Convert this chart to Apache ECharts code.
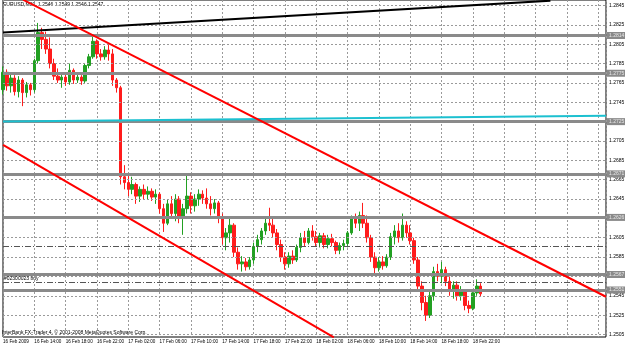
<!DOCTYPE html>
<html>
<head>
<meta charset="utf-8">
<script src="https://cdn.jsdelivr.net/npm/echarts@6/dist/echarts.min.js"></script>
<style>
  html, body { margin: 0; padding: 0; background: #fff; }
  #main { width: 625px; height: 346px; }
</style>
</head>
<body>
<div id="main"></div>
<script>
// EURUSD M30, 16 Feb 10:00 -> 18 Feb 23:00 (bar index 0..122)
var open = [
  1.2758, 1.2776, 1.2762, 1.2770, 1.2756, 1.2768, 1.2755, 1.2763, 1.2758, 1.2788,
  1.2817, 1.2810, 1.2800, 1.2785, 1.2772, 1.2768, 1.2771, 1.2766, 1.2778, 1.2768,
  1.2771, 1.2767, 1.2783, 1.2792, 1.2808, 1.2795, 1.2792, 1.2799, 1.2795, 1.2768,
  1.2760, 1.2668, 1.2662, 1.2655, 1.2660, 1.2648, 1.2655, 1.2650, 1.2653, 1.2647,
  1.2650, 1.2635, 1.2620, 1.2640, 1.2630, 1.2645, 1.2625, 1.2635, 1.2648, 1.2638,
  1.2645, 1.2650, 1.2646, 1.2640, 1.2635, 1.2641, 1.2625, 1.2605, 1.2610, 1.2618,
  1.2590, 1.2578, 1.2580, 1.2575, 1.2582, 1.2596, 1.2603, 1.2612, 1.2620, 1.2618,
  1.2610, 1.2598, 1.2585, 1.2578, 1.2586, 1.2582, 1.2595, 1.2605, 1.2600, 1.2612,
  1.2606, 1.2600, 1.2607, 1.2598, 1.2604, 1.2600, 1.2592, 1.2597, 1.2599, 1.2610,
  1.2625, 1.2620, 1.2628, 1.2620, 1.2605, 1.2585, 1.2574, 1.2580, 1.2576, 1.2585,
  1.2606, 1.2612, 1.2605, 1.2618, 1.2610, 1.2602, 1.2582, 1.2555, 1.2538, 1.2525,
  1.2545, 1.2570, 1.2565, 1.2572, 1.2560, 1.2552, 1.2556, 1.2545, 1.2550, 1.2535,
  1.2532, 1.2548, 1.2555
];
var high = [
  1.2782, 1.2779, 1.2775, 1.2773, 1.2772, 1.2770, 1.2766, 1.2765, 1.2790, 1.2827,
  1.2822, 1.2818, 1.2812, 1.2790, 1.2780, 1.2775, 1.2776, 1.2785, 1.2780, 1.2774,
  1.2773, 1.2785, 1.2795, 1.2815, 1.2810, 1.2800, 1.2803, 1.2806, 1.2800, 1.2770,
  1.2762, 1.2680, 1.2672, 1.2668, 1.2662, 1.2658, 1.2660, 1.2658, 1.2656, 1.2655,
  1.2652, 1.2640, 1.2645, 1.2648, 1.2650, 1.2648, 1.2640, 1.2670, 1.2652, 1.2650,
  1.2655, 1.2654, 1.2656, 1.2648, 1.2645, 1.2643, 1.2630, 1.2615, 1.2625, 1.2620,
  1.2595, 1.2586, 1.2584, 1.2585, 1.2600, 1.2608, 1.2615, 1.2625, 1.2636, 1.2625,
  1.2614, 1.2603, 1.2590, 1.2590, 1.2592, 1.2598, 1.2610, 1.2612, 1.2615, 1.2618,
  1.2612, 1.2610, 1.2610, 1.2608, 1.2609, 1.2602, 1.2600, 1.2603, 1.2612, 1.2628,
  1.2630, 1.2632, 1.2641, 1.2628, 1.2608, 1.2590, 1.2585, 1.2586, 1.2588, 1.2610,
  1.2618, 1.2620, 1.2630, 1.2622, 1.2618, 1.2605, 1.2585, 1.2560, 1.2545, 1.2550,
  1.2575, 1.2578, 1.2580, 1.2575, 1.2565, 1.2560, 1.2560, 1.2555, 1.2552, 1.2540,
  1.2552, 1.2562, 1.2558
];
var low = [
  1.2753, 1.2757, 1.2755, 1.2752, 1.2750, 1.2741, 1.2750, 1.2752, 1.2755, 1.2785,
  1.2800, 1.2795, 1.2780, 1.2768, 1.2765, 1.2760, 1.2762, 1.2763, 1.2764, 1.2765,
  1.2763, 1.2765, 1.2780, 1.2790, 1.2790, 1.2788, 1.2789, 1.2788, 1.2762, 1.2755,
  1.2660, 1.2655, 1.2648, 1.2650, 1.2640, 1.2642, 1.2645, 1.2644, 1.2643, 1.2640,
  1.2630, 1.2611, 1.2618, 1.2625, 1.2622, 1.2620, 1.2608, 1.2630, 1.2630, 1.2632,
  1.2638, 1.2640, 1.2635, 1.2628, 1.2630, 1.2620, 1.2598, 1.2592, 1.2600, 1.2585,
  1.2572, 1.2570, 1.2571, 1.2572, 1.2578, 1.2590, 1.2598, 1.2608, 1.2612, 1.2605,
  1.2592, 1.2580, 1.2572, 1.2574, 1.2578, 1.2580, 1.2590, 1.2596, 1.2598, 1.2602,
  1.2596, 1.2595, 1.2594, 1.2594, 1.2596, 1.2588, 1.2588, 1.2592, 1.2595, 1.2608,
  1.2615, 1.2612, 1.2615, 1.2600, 1.2580, 1.2568, 1.2570, 1.2572, 1.2574, 1.2582,
  1.2598, 1.2600, 1.2602, 1.2605, 1.2598, 1.2578, 1.2550, 1.2530, 1.2519, 1.2522,
  1.2540, 1.2560, 1.2558, 1.2555, 1.2545, 1.2542, 1.2540, 1.2540, 1.2530, 1.2527,
  1.2530, 1.2545, 1.2544
];
var close = [
  1.2776, 1.2762, 1.2770, 1.2756, 1.2768, 1.2755, 1.2763, 1.2758, 1.2788, 1.2817,
  1.2810, 1.2800, 1.2785, 1.2772, 1.2768, 1.2771, 1.2766, 1.2778, 1.2768, 1.2771,
  1.2767, 1.2783, 1.2792, 1.2808, 1.2795, 1.2792, 1.2799, 1.2795, 1.2768, 1.2760,
  1.2668, 1.2662, 1.2655, 1.2660, 1.2648, 1.2655, 1.2650, 1.2653, 1.2647, 1.2650,
  1.2635, 1.2620, 1.2640, 1.2630, 1.2645, 1.2625, 1.2635, 1.2648, 1.2638, 1.2645,
  1.2650, 1.2646, 1.2640, 1.2635, 1.2641, 1.2625, 1.2605, 1.2610, 1.2618, 1.2590,
  1.2578, 1.2580, 1.2575, 1.2582, 1.2596, 1.2603, 1.2612, 1.2620, 1.2618, 1.2610,
  1.2598, 1.2585, 1.2578, 1.2586, 1.2582, 1.2595, 1.2605, 1.2600, 1.2612, 1.2606,
  1.2600, 1.2607, 1.2598, 1.2604, 1.2600, 1.2592, 1.2597, 1.2599, 1.2610, 1.2625,
  1.2620, 1.2628, 1.2620, 1.2605, 1.2585, 1.2574, 1.2580, 1.2576, 1.2585, 1.2606,
  1.2612, 1.2605, 1.2618, 1.2610, 1.2602, 1.2582, 1.2555, 1.2538, 1.2525, 1.2545,
  1.2570, 1.2565, 1.2572, 1.2560, 1.2552, 1.2556, 1.2545, 1.2550, 1.2535, 1.2532,
  1.2548, 1.2555, 1.2547
];

// one label every 8 bars (4 hours)
var timeTicks = [
  '16 Feb 2009', '16 Feb 14:00', '16 Feb 18:00', '16 Feb 22:00',
  '17 Feb 02:00', '17 Feb 06:00', '17 Feb 10:00', '17 Feb 14:00',
  '17 Feb 18:00', '17 Feb 22:00', '18 Feb 02:00', '18 Feb 06:00',
  '18 Feb 10:00', '18 Feb 14:00', '18 Feb 18:00', '18 Feb 22:00'
];
var priceTicks = [
  1.2845, 1.2825, 1.2805, 1.2785, 1.2765, 1.2745, 1.2725, 1.2705, 1.2685,
  1.2665, 1.2645, 1.2625, 1.2605, 1.2585, 1.2565, 1.2545, 1.2525, 1.2505
];

// horizontal lines and trend lines drawn on the chart
var levelPrices = [1.2814, 1.2775, 1.2725, 1.2671, 1.2626, 1.2567, 1.2551];
var orderPrices = [1.2596, 1.2559];
var orderName = '#02300023 buy';
var bidPrice = 1.2547;
var blackTrend = [[0, 1.2817], [139.8, 1.2850]];
var cyanTrend = [[0, 1.2725], [154, 1.2731]];
var redUpper = [[5.1, 1.2851], [154, 1.2544]];
var redLower = [[0, 1.2701], [84.5, 1.2502]];

var FONT = 'Liberation Sans';
var chart = echarts.init(document.getElementById('main'), null, { renderer: 'canvas' });

var candleData = open.map(function (o, i) {
  return [i, o, close[i], low[i], high[i]];
});

function trendSeries(points, color, width) {
  return {
    type: 'line',
    data: points,
    symbol: 'none',
    silent: true,
    clip: true,
    z: 5,
    lineStyle: { color: color, width: width }
  };
}

var option = {
  animation: false,
  backgroundColor: '#fff',
  grid: {
    left: 2, right: 19, top: 0, bottom: 9,
    show: true, borderColor: '#000', borderWidth: 1, backgroundColor: '#fff'
  },
  graphic: [
    {
      type: 'text', left: 3, top: 2,
      style: { text: 'EURUSD,M30  1.2546 1.2549 1.2546 1.2547', fontSize: 5, fontFamily: FONT, fill: '#000' }
    },
    {
      type: 'text', left: 2, top: 330,
      style: { text: 'InterBank FX-Trader 4, \u00a9 2001-2008 MetaQuotes Software Corp.', fontSize: 5, fontFamily: FONT, fill: '#000' }
    }
  ],
  xAxis: {
    type: 'value',
    min: 0,
    max: 154,
    interval: 8,
    axisLine: { show: false },
    axisTick: { show: false },
    axisLabel: {
      fontSize: 4.6,
      fontFamily: FONT,
      color: '#000',
      margin: 2,
      align: 'left',
      showMaxLabel: false,
      formatter: function (v) {
        var k = Math.round(v / 8);
        return timeTicks[k] || '';
      }
    },
    splitLine: { show: true, lineStyle: { color: '#9a9a9a', type: [2, 2], width: 1 } }
  },
  yAxis: {
    type: 'value',
    position: 'right',
    min: 1.25024,
    max: 1.28507,
    axisLine: { show: false },
    axisTick: { show: false },
    axisLabel: { show: false },
    splitLine: { show: false }
  },
  series: [
    {
      // price grid + labels
      type: 'line', data: [], silent: true, clip: false, z: 1,
      markLine: {
        silent: true, symbol: ['none', 'none'], animation: false, precision: 5,
        lineStyle: { color: '#9a9a9a', type: [2, 2], width: 1 },
        label: { position: 'end', distance: 3, fontSize: 5, fontFamily: FONT, color: '#000' },
        data: priceTicks.map(function (p) {
          return { yAxis: p, label: { formatter: p.toFixed(4) } };
        })
      }
    },
    {
      // order lines
      type: 'line', data: [], silent: true, clip: false, z: 2,
      markLine: {
        silent: true, symbol: ['none', 'none'], animation: false, precision: 5,
        lineStyle: { color: '#555', type: [6, 2, 1, 2], width: 1 },
        label: { show: false },
        data: orderPrices.map(function (p, i) {
          return {
            yAxis: p,
            label: i === 1 ? {
              show: true, position: 'insideStartTop', distance: 1,
              formatter: orderName, fontSize: 5, fontFamily: FONT, color: '#000'
            } : { show: false }
          };
        })
      }
    },
    {
      // horizontal levels
      type: 'line', data: [], silent: true, clip: false, z: 3,
      markLine: {
        silent: true, symbol: ['none', 'none'], animation: false, precision: 5,
        lineStyle: { color: '#8a8a8a', type: 'solid', width: 3 },
        label: {
          position: 'end', distance: 1, fontSize: 5, fontFamily: FONT,
          color: '#e8e8e8', backgroundColor: '#8a8a8a', padding: [1, 2]
        },
        data: levelPrices.map(function (p) {
          return { yAxis: p, label: { formatter: p.toFixed(4) } };
        })
      }
    },
    {
      // bid label
      type: 'line', data: [], silent: true, clip: false, z: 4,
      markLine: {
        silent: true, symbol: ['none', 'none'], animation: false, precision: 5,
        lineStyle: { width: 0, opacity: 0 },
        label: {
          position: 'end', distance: 1, fontSize: 5, fontFamily: FONT,
          color: '#fff', backgroundColor: '#000', padding: [1, 2],
          formatter: bidPrice.toFixed(4)
        },
        data: [{ yAxis: bidPrice }]
      }
    },
    {
      type: 'candlestick',
      data: candleData,
      encode: { x: 0, y: [1, 2, 3, 4] },
      barWidth: 3,
      silent: true,
      z: 4,
      itemStyle: {
        color: '#22a022',
        color0: '#ff1c1c',
        borderColor: '#22a022',
        borderColor0: '#ff1c1c',
        borderWidth: 1
      }
    },
    trendSeries(cyanTrend, '#1cc0d0', 2),
    trendSeries(blackTrend, '#000', 2),
    trendSeries(redUpper, '#ff0000', 2),
    trendSeries(redLower, '#ff0000', 2)
  ]
};

chart.setOption(option);
</script>
</body>
</html>
